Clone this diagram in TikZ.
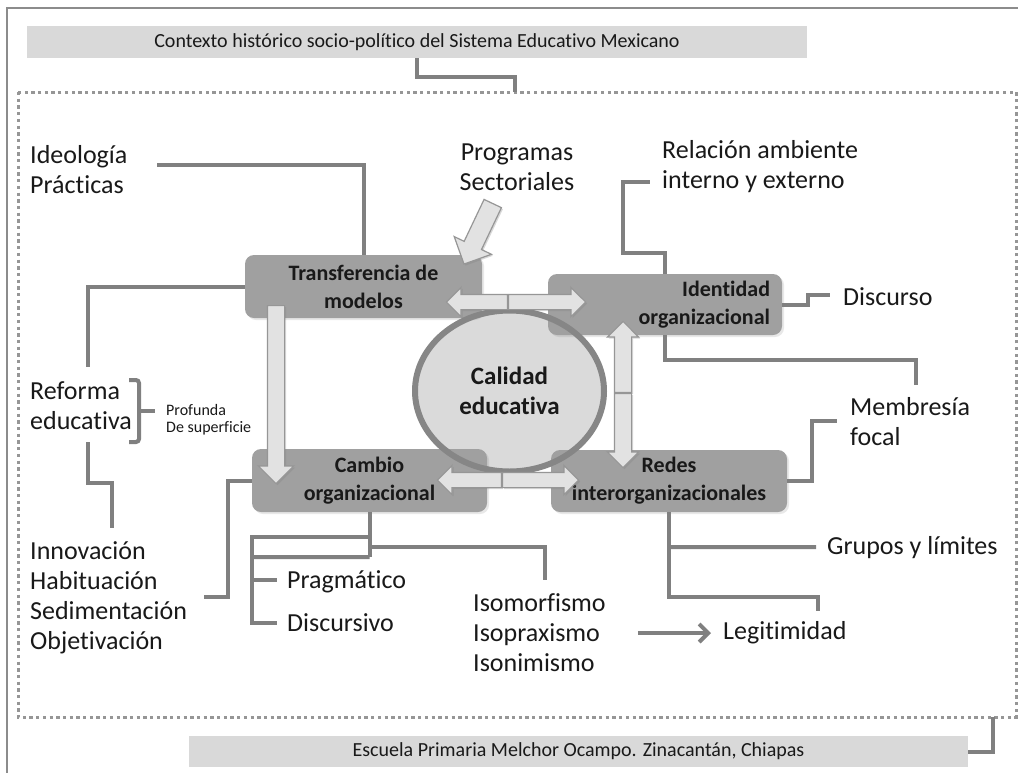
\documentclass[tikz,border=0pt]{standalone}
\usepackage{fontspec}
\setmainfont{Carlito}[Ligatures=NoCommon]
\usetikzlibrary{shapes.arrows,shapes.geometric,shadows,arrows.meta,calc}

\definecolor{linegray}{RGB}{128,128,128}
\definecolor{framegray}{RGB}{140,140,140}
\definecolor{dotgray}{RGB}{150,150,150}
\definecolor{boxgray}{RGB}{160,160,160}
\definecolor{barfill}{RGB}{217,217,217}
\definecolor{arrowfill}{RGB}{226,226,226}
\definecolor{arrowedge}{RGB}{150,150,150}
\definecolor{circfill}{RGB}{218,218,218}
\definecolor{inkgray}{RGB}{25,25,25}

\begin{document}
\begin{tikzpicture}[x=1pt,y=-1pt,
  conn/.style={draw=linegray, line width=4pt},
  txt/.style={font=\fontsize{26}{30}\selectfont, inner sep=0pt, anchor=west, align=left, text=inkgray},
  smalltxt/.style={font=\fontsize{16}{17}\selectfont, inner sep=0pt, anchor=west, align=left, text=inkgray},
  bartxt/.style={font=\fontsize{20}{22}\selectfont, text=inkgray},
  contextbar/.style={fill=barfill, draw=none, inner sep=0pt, bartxt},
  mainbox/.style={fill=boxgray, draw=none, rounded corners=9pt, inner sep=0pt,
    font=\bfseries\fontsize{22}{28}\selectfont, align=center, text=inkgray,
    drop shadow={opacity=0.18, shadow xshift=2pt, shadow yshift=-2pt}},
  blockarrow/.style={single arrow, draw=arrowedge, fill=arrowfill, line width=1.2pt,
    anchor=tail, inner xsep=0pt, single arrow tip angle=90,
    drop shadow={opacity=0.3, shadow xshift=1.5pt, shadow yshift=-1.5pt}},
  dotframe/.style={draw=dotgray, line width=3pt, dash pattern=on 3.3pt off 3.4pt}
]
\useasboundingbox (0,0) rectangle (1018,772);
\clip (0,0) rectangle (1018,772);
\fill[white] (0,0) rectangle (1018,772);

% outer frame and dotted frame
\draw[framegray, line width=2pt] (7,790) -- (7,8) -- (1030,8);
\coordinate (fr-tl) at (18,92);
\coordinate (fr-br) at (1016,717);
\draw[dotframe] (fr-tl) rectangle (fr-br);

% context bars
\node[contextbar, minimum width=780pt, minimum height=32pt] (ctx) at (417,42)
  {Contexto histórico socio-político del Sistema Educativo Mexicano};
\node[contextbar, minimum width=779pt, minimum height=31pt] (school) at (578.5,751.5)
  {Escuela Primaria Melchor Ocampo. Zinacantán, Chiapas};
\coordinate (c-frame-top) at (515,92);
\coordinate (c-frame-bot) at (993,717);
\draw[conn] (ctx.south) -- ++(0,19) -| (c-frame-top);
\draw[conn] (school.east) -| (c-frame-bot);

% central ellipse (fill first, border drawn after the boxes)
\node[ellipse, fill=circfill, minimum width=189pt, minimum height=161pt, inner sep=0pt,
  drop shadow={opacity=0.2, shadow xshift=2pt, shadow yshift=-2pt}] (calidad) at (509.5,391) {};

% main boxes
\node[mainbox, minimum width=237pt, minimum height=63pt] (transf) at (363.5,286.5)
  {Transferencia de\\modelos};
\node[mainbox, minimum width=234pt, minimum height=61pt, text width=210pt, align=right] (ident) at (665,304.5)
  {Identidad\\organizacional};
\node[mainbox, minimum width=235pt, minimum height=63pt] (cambio) at (369.5,480.5)
  {Cambio\\organizacional};
\node[mainbox, minimum width=236pt, minimum height=62pt] (redes) at (669,481)
  {Redes\\interorganizacionales};

\draw[linegray!95, line width=6pt] (calidad.center) ellipse [x radius=94.5pt, y radius=80.5pt];
\node[font=\bfseries\fontsize{25}{30}\selectfont, align=center, text=inkgray] at (calidad.center) {Calidad\\educativa};

% text labels
\node[txt] (ideo) at (30,170) {Ideología\\Prácticas};
\node[txt, anchor=center, align=center] (prog) at (517,167) {Programas\\Sectoriales};
\node[txt] (rel) at (662,167) {Relación ambiente\\interno y externo};
\node[txt] (disc) at (843,297) {Discurso};
\node[txt] (reforma) at (30,406) {Reforma\\educativa};
\node[smalltxt] (prof) at (166,420) {Profunda\\De superficie};
\node[txt] (memb) at (850,421.5) {Membresía\\focal};
\node[txt] (innov) at (30,597.5) {Innovación\\Habituación\\Sedimentación\\Objetivación};
\node[txt] (prag) at (287,582) {Pragmático};
\node[txt] (discv) at (287,623) {Discursivo};
\node[txt] (iso) at (473,633) {Isomorfismo\\Isopraxismo\\Isonimismo};
\node[txt] (legit) at (723,633) {Legitimidad};
\node[txt] (grupos) at (827,548) {Grupos y límites};

% connector end points beside the labels
\coordinate (c-ideo) at (157,165);
\coordinate (c-ref-top) at (88,367);
\coordinate (c-ref-bot) at (88,442);
\coordinate (c-innov) at (112,528);
\coordinate (c-habit) at (204,597);
\coordinate (c-rel) at (650,182);
\coordinate (c-disc) at (830,295);
\coordinate (c-memb-top) at (916,385);
\coordinate (c-memb-side) at (837,421);
\coordinate (c-grupos) at (816,547);
\coordinate (c-legit) at (818,611);
\coordinate (c-prag) at (277,580);
\coordinate (c-discv) at (277,623);
\coordinate (c-iso) at (545,580);

% connectors
\draw[conn] (c-ideo) -| (transf.north);
\draw[conn] (transf.west) -| (c-ref-top);
\draw[conn] (c-ref-bot) -- ++(0,41) -| (c-innov);
\draw[conn] (cambio.west) -- ++(-24,0) |- (c-habit);
\draw[conn] (cambio.south) -- ++(0,45);
\draw[conn] ($(cambio.south)+(0,35)$) -| (c-iso);
\draw[conn] ($(cambio.south)+(0,25)$) -| (252,623) -- (c-discv);
\draw[conn] ($(cambio.south)+(0,45)$) -- (252,557);
\draw[conn] (252,580) -- (c-prag);
\draw[conn] (redes.south) -- ++(0,85) -| (c-legit);
\draw[conn] ($(redes.south)+(0,35)$) -- (c-grupos);
\draw[conn] (redes.east) -- ++(25,0) |- (c-memb-side);
\draw[conn] (ident.north) -- ++(0,-21) -- ++(-42,0) |- (c-rel);
\draw[conn] (ident.east) -- ++(26,0) |- (c-disc);
\draw[conn] (ident.south) -- ++(0,25) -| (c-memb-top);

% bracket next to "Reforma educativa"
\coordinate (br-top) at (129,380);
\coordinate (br-bot) at (129,442);
\coordinate (br-mid) at (139,411);
\draw[conn, rounded corners=3pt] (br-top) -- (139,380) -- (139,442) -- (br-bot);
\draw[conn] (br-mid) -- ($(prof.west)+(-11,-9)$);

% arrow towards Legitimidad
\draw[conn, -{Straight Barb[length=9pt, width=18pt]}, shorten <=32pt, shorten >=12pt] (iso.east) -- (legit.west);

% block arrows
\node[blockarrow, inner ysep=8pt, single arrow head extend=9pt, minimum height=178pt, rotate=-90] (a-down) at (276,305) {};
\node[blockarrow, inner ysep=9pt, single arrow head extend=11pt, minimum height=67pt, rotate=-115.4] (a-prog) at (493,203) {};
\node[blockarrow, inner ysep=7pt, single arrow head extend=7pt, minimum height=61pt, rotate=180] (a-top-l) at (508,302) {};
\node[blockarrow, inner ysep=7pt, single arrow head extend=7pt, minimum height=77pt] (a-top-r) at (508,302) {};
\node[blockarrow, inner ysep=7pt, single arrow head extend=7pt, minimum height=64pt, rotate=180] (a-bot-l) at (502,480) {};
\node[blockarrow, inner ysep=7pt, single arrow head extend=7pt, minimum height=76pt] (a-bot-r) at (502,480) {};
\node[blockarrow, inner ysep=8pt, single arrow head extend=7pt, minimum height=71pt, rotate=90] (a-right-u) at (623,393) {};
\node[blockarrow, inner ysep=8pt, single arrow head extend=7pt, minimum height=74pt, rotate=-90] (a-right-d) at (623,393) {};
\end{tikzpicture}
\end{document}
